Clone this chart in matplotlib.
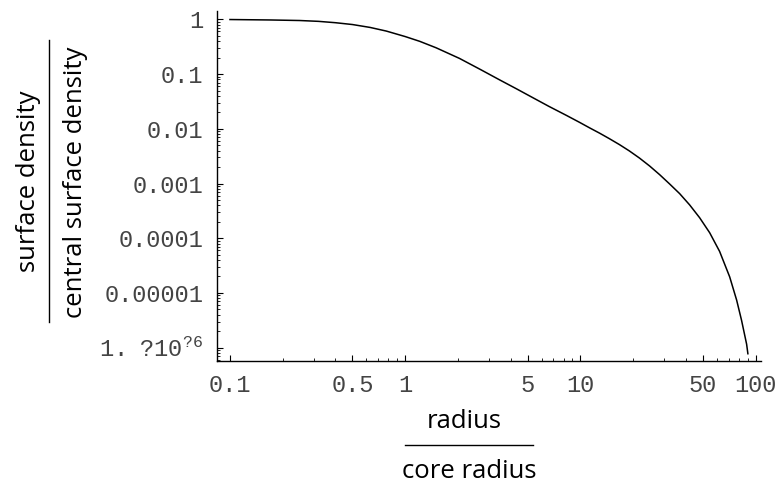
import matplotlib
matplotlib.use("Agg")
import matplotlib.pyplot as plt
from matplotlib.lines import Line2D
from matplotlib.ticker import FixedLocator, FixedFormatter

# Data
radius = [0.1, 0.17, 0.25, 0.32, 0.4, 0.5, 0.63, 0.78, 1.0, 1.21, 1.5, 2.04, 2.7,
          3.45, 4.3, 5.33, 6.6, 8.33, 9.88, 11.3, 12.85, 14.6, 16.7, 19.0, 21.7,
          24.8, 28.3, 32.3, 36.8, 41.95, 47.85, 54.6, 62.2, 71.0, 77.8, 83.0,
          88.7, 90.2]
density = [0.991, 0.973, 0.951, 0.918, 0.867, 0.803, 0.711, 0.610, 0.484, 0.396,
           0.302, 0.193, 0.120, 0.0785, 0.0540, 0.0372, 0.0257, 0.0175, 0.0131,
           0.01035, 0.00832, 0.00661, 0.00513, 0.00394, 0.00292, 0.00209, 0.00145,
           0.000977, 0.000653, 0.000407, 0.000237, 0.000126, 5.75e-5, 1.97e-5,
           7.41e-6, 3.16e-6, 1.16e-6, 7.76e-7]

xticks = [0.1, 0.5, 1, 5, 10, 50, 100]
xticklabels = ["0.1", "0.5", "1", "5", "10", "50", "100"]
yticks = [1, 0.1, 0.01, 0.001, 0.0001, 0.00001, 0.000001]
yticklabels = ["1", "0.1", "0.01", "0.001", "0.0001", "0.00001",
               r"$\mathrm{1.}\enspace\,\mathrm{?10}^{\mathrm{?6}}$"]

plt.rcParams['mathtext.fontset'] = 'custom'
plt.rcParams['mathtext.rm'] = 'Liberation Mono'
plt.rcParams['mathtext.it'] = 'Liberation Mono'

W, H = 780, 490
fig = plt.figure(figsize=(W / 100, H / 100), dpi=100)
ax = fig.add_axes([217 / W, 129 / H, 544 / W, 350 / H])
ax.plot(radius, density, color='black', lw=1.1)
ax.set_xscale('log')
ax.set_yscale('log')
ax.set_xlim(10 ** -1.074, 10 ** 2.03)
ax.set_ylim(10 ** -6.243, 10 ** 0.152)

for s in ['top', 'right']:
    ax.spines[s].set_visible(False)
for s in ['left', 'bottom']:
    ax.spines[s].set_linewidth(1.0)

ax.xaxis.set_major_locator(FixedLocator(xticks))
ax.xaxis.set_major_formatter(FixedFormatter(xticklabels))
xminor = [m * 10 ** e for e in (-1, 0, 1) for m in range(2, 10) if m != 5]
ax.xaxis.set_minor_locator(FixedLocator(xminor))
ax.yaxis.set_major_locator(FixedLocator(yticks))
ax.yaxis.set_major_formatter(FixedFormatter(yticklabels))
yminor = [m * 10 ** e for e in range(-7, 1) for m in range(2, 10)]
ax.yaxis.set_minor_locator(FixedLocator(yminor))
ax.xaxis.set_minor_formatter(FixedFormatter([]))
ax.yaxis.set_minor_formatter(FixedFormatter([]))

ax.tick_params(which='major', direction='in', length=4, width=0.8)
ax.tick_params(which='minor', direction='in', length=2, width=0.6)
ax.tick_params(axis='y', which='major', pad=10)
ax.tick_params(axis='x', which='major', pad=9)
for lab in ax.get_xticklabels() + ax.get_yticklabels():
    lab.set_fontfamily('Liberation Mono')
    lab.set_fontsize(17)
    lab.set_color('#444444')

lab_font = dict(family='Open Sans', size=18.5, color='black')
# y axis label (fraction)
fig.text(29 / W, 1 - 181 / H, "surface density", rotation=90,
         ha='center', va='center', **lab_font)
fig.text(76 / W, 1 - 182 / H, "central surface density", rotation=90,
         ha='center', va='center', **lab_font)
fig.add_artist(Line2D([49 / W, 49 / W], [1 - 40 / H, 1 - 322 / H],
                      transform=fig.transFigure, color='black', lw=1.0))
# x axis label (fraction)
fig.text(464.3 / W, 1 - 428.3 / H, "radius", ha='center', va='baseline', **lab_font)
fig.text(469.5 / W, 1 - 478.3 / H, "core radius", ha='center', va='baseline', **lab_font)
fig.add_artist(Line2D([405 / W, 532.7 / W], [1 - 445 / H, 1 - 445 / H],
                      transform=fig.transFigure, color='black', lw=1.0))

fig.savefig("out.png", dpi=100)
